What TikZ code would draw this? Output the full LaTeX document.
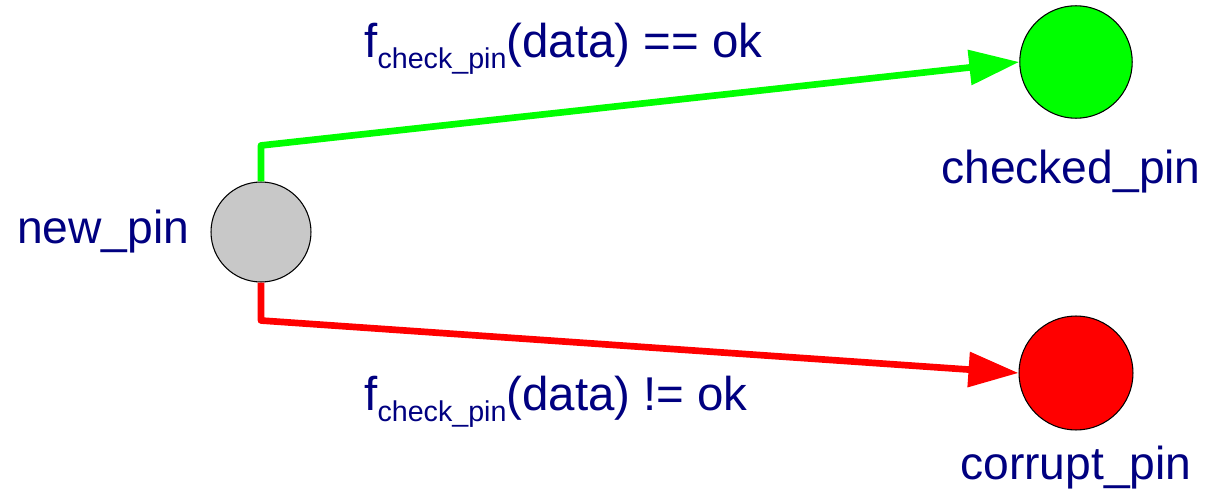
\documentclass[tikz,border=0pt]{standalone}
\usepackage{fontspec}
\setmainfont{Liberation Sans}
\usepackage{tikz}
\usetikzlibrary{positioning}
\usetikzlibrary{arrows.meta}
\usepackage{xcolor}
\definecolor{pinblue}{RGB}{0,0,128}
\definecolor{pingray}{RGB}{200,200,200}
\newcommand{\fsub}[1]{\raisebox{-0.24cm}{\fontsize{16.3}{17}\selectfont #1}}

\begin{document}
\begin{tikzpicture}[x=0.02cm, y=-0.02cm,
  state/.style = {shape=circle, draw, line width=0.6pt, inner sep=0pt},
  statelabel/.style = {inner sep=0pt, text=pinblue, font=\fontsize{26.3}{31}\selectfont},
  edgelabel/.style = {statelabel, font=\fontsize{27}{32}\selectfont},
  transition/.style = {line width=3.8pt, line join=round,
    -{Triangle[length=1cm, width=0.68cm]}}
  ]
  \useasboundingbox (0,0) rectangle (1215,490);
  \node[state, fill=pingray, minimum size=2cm] (newpin) at (261,232) {};
  \node[state, fill=green, minimum size=2.25cm] (checkedpin) at (1076,62) {};
  \node[state, fill=red, minimum size=2.28cm] (corruptpin) at (1076,373) {};
  \node[statelabel, left=0.42cm of newpin] (newpinlabel) {new\_pin};
  \node[statelabel, below=0.62cm of checkedpin, xshift=-0.1cm] (checkedpinlabel) {checked\_pin};
  \node[statelabel, below=0.3cm of corruptpin] (corruptpinlabel) {corrupt\_pin};
  \draw[transition, green] (newpin.north) -- ++(0,-36) coordinate (okbend) -- (checkedpin.west);
  \draw[transition, red] (newpin.south) -- ++(0,38) coordinate (failbend) -- (corruptpin.west);
  \node[edgelabel, anchor=base west] (oklabel) at (364,57) {f\fsub{check\_pin}(data) == ok};
  \node[edgelabel, anchor=base west] (faillabel) at (364,410) {f\fsub{check\_pin}(data) != ok};
\end{tikzpicture}
\end{document}
